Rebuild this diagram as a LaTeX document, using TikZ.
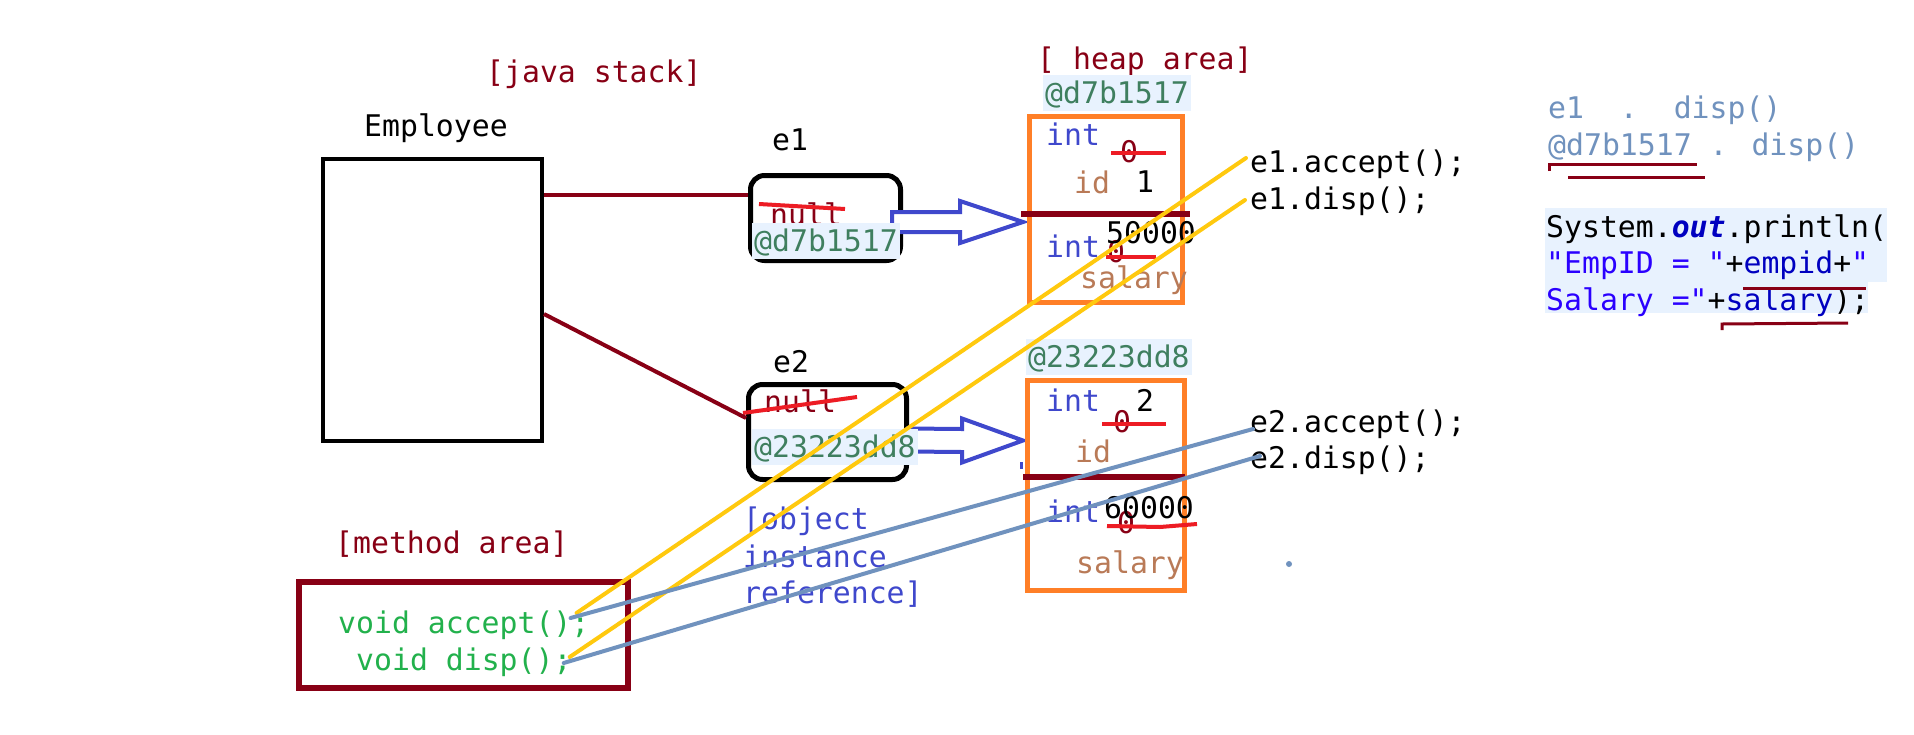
\documentclass[tikz,border=0pt]{standalone}
\usepackage{fontspec}
\newfontfamily\mono{DejaVu Sans Mono}
\usetikzlibrary{calc}
\definecolor{maroon}{HTML}{880015}
\definecolor{pred}{HTML}{ED1C24}
\definecolor{porange}{HTML}{FF7F27}
\definecolor{pyellow}{HTML}{FFC90E}
\definecolor{pindigo}{HTML}{3F48CC}
\definecolor{pbluegray}{HTML}{7092BE}
\definecolor{pgreen}{HTML}{22B14C}
\definecolor{pbrown}{HTML}{B97A57}
\definecolor{annot}{HTML}{3F7F5F}
\definecolor{hl}{HTML}{E8F2FE}
\definecolor{strblue}{HTML}{2A00FF}
\definecolor{fieldblue}{HTML}{0000C0}
\begin{document}
\begin{tikzpicture}[x=1pt,y=-1pt,
  txt/.style={anchor=base west,inner sep=0pt,font=\mono\fontsize{29.8}{36}\selectfont},
  hltxt/.style={txt,fill=hl,inner xsep=2pt,text height=28pt,text depth=8pt},
  blackbox/.style={draw=black,line width=4pt,inner sep=0pt},
  refbox/.style={draw=black,line width=5pt,rounded corners=14pt,inner sep=0pt},
  heapbox/.style={draw=porange,line width=5pt,inner sep=0pt},
  methbox/.style={draw=maroon,line width=6pt,inner sep=0pt},
  link/.style={draw=maroon,line width=4pt},
  yel/.style={draw=pyellow,line width=4pt,line cap=round},
  bgl/.style={draw=pbluegray,line width=4pt,line cap=round},
  strike/.style={draw=pred,line width=4pt},
  divider/.style={draw=maroon,line width=6pt},
  blockarr/.style={draw=pindigo,line width=4pt,fill=white,line join=miter},
  uline/.style={draw=maroon,line width=3pt}]
\useasboundingbox (0,0) rectangle (1914,734);
\fill[white] (0,0) rectangle (1914,734);

% ---------- java stack ----------
\node[txt,text=maroon] (jstack) at (486,82) {[java stack]};
\node[txt] (emplbl) at (364,136) {Employee};
\node[blackbox,minimum width=219pt,minimum height=282pt] (emp) at (432.5,300) {};

% ---------- e1 ----------
\node[txt] (e1lbl) at (772,150) {e1};
\node[refbox,minimum width=150pt,minimum height=85pt] (e1) at (825.5,218) {};
\node[txt,text=maroon] (null1) at (770,225) {null};
\draw[strike] (759,204) -- (845,209);
\coordinate (a1s) at ($(e1.east)+(-11,4)$);
\coordinate (a1t) at (1023,222);
\draw[blockarr] ($(a1s)+(0,-10)$) -- ($(a1t)+(-63,-10)$) -- ($(a1t)+(-63,-21)$) -- (a1t)
  -- ($(a1t)+(-63,21)$) -- ($(a1t)+(-63,10)$) -- ($(a1s)+(0,10)$) -- cycle;
\node[hltxt,text=annot] (ref1) at (752,251) {@d7b1517};

% ---------- e2 ----------
\node[txt] (e2lbl) at (773,372) {e2};
\node[refbox,minimum width=158pt,minimum height=95pt] (e2) at (827.5,432) {};
\node[txt,text=maroon] (null2) at (764,412) {null};
\draw[strike] (743,413) -- (857,397);
\coordinate (a2s) at ($(e2.east)+(-1,8)$);
\coordinate (a2t) at (1023,440.5);
\draw[blockarr] ($(a2s)+(0,-11.5)$) -- ($(a2t)+(-61,-11.5)$) -- ($(a2t)+(-61,-22)$) -- (a2t)
  -- ($(a2t)+(-61,22)$) -- ($(a2t)+(-61,11.5)$) -- ($(a2s)+(0,11.5)$) -- cycle;
\node[hltxt,text=annot] (ref2) at (752,457) {@23223dd8};
\draw[pindigo,line width=3pt] (1021,462) -- (1021,469);

% ---------- heap area ----------
\node[txt,text=maroon] (heaplbl) at (1037,69) {[ heap area]};
\node[hltxt,text=annot] (obj1lbl) at (1043,103) {@d7b1517};
\node[heapbox,minimum width=153pt,minimum height=186pt] (heap1) at (1106,209.5) {};
\node[txt,text=pindigo] (h1int1) at (1046,145) {int};
\node[txt,text=maroon] (h1z1) at (1120,162) {0};
\draw[strike] (1111,153) -- (1166,153);
\node[txt,text=pbrown] (h1id) at (1074,193) {id};
\node[txt] (h1one) at (1136,192) {1};
\draw[divider] (1021,214) -- (1190,214);
\node[txt,text=pindigo] (h1int2) at (1046,257) {int};
\node[txt,text=maroon] (h1z2) at (1107,262) {0};
\draw[strike] (1106,257) -- (1156,257);
\node[txt] (h1sal) at (1106,243) {50000};
\node[txt,text=pbrown] (h1salary) at (1080,288) {salary};

\node[hltxt,text=annot] (obj2lbl) at (1026,367) {@23223dd8};
\node[heapbox,minimum width=157pt,minimum height=210pt] (heap2) at (1106,485.5) {};
\node[txt,text=pindigo] (h2int1) at (1046,411) {int};
\node[txt] (h2two) at (1136,411) {2};
\node[txt,text=maroon] (h2z1) at (1113,432) {0};
\draw[strike] (1102,424) -- (1166,424);
\node[txt,text=pbrown] (h2id) at (1075,462) {id};
\draw[divider] (1023,477) -- (1185,477);
\node[txt,text=pindigo] (h2int2) at (1046,522) {int};
\node[txt,text=maroon] (h2z2) at (1117,533) {0};
\node[txt] (h2sal) at (1104,518) {60000};
\draw[strike] (1107,526) -- (1160,527) -- (1197,524);
\node[txt,text=pbrown] (h2salary) at (1076,573) {salary};

% ---------- method area ----------
\node[txt,text=maroon] (methlbl) at (335,553) {[method area]};
\node[methbox,minimum width=329pt,minimum height=106pt] (meth) at (463.5,635) {};
\node[txt,text=pgreen] (macc) at (338,633) {void accept();};
\node[txt,text=pgreen] (mdisp) at (356,670) {void disp();};

% ---------- object instance reference ----------
\node[txt,text=pindigo] (oir1) at (743,529) {[object};
\node[txt,text=pindigo] (oir2) at (743,567) {instance};
\node[txt,text=pindigo] (oir3) at (743,603) {reference]};

% ---------- calls ----------
\node[txt] (c1) at (1250,172) {e1.accept();};
\node[txt] (c2) at (1250,209) {e1.disp();};
\node[txt] (c3) at (1250,432) {e2.accept();};
\node[txt] (c4) at (1250,468) {e2.disp();};
\fill[pbluegray] (1289,564) circle (3);

% ---------- top right notes ----------
\node[txt,text=pbluegray] (n1) at (1548,118) {e1~~.~~disp()};
\node[txt,text=pbluegray] (n2) at (1548,155) {@d7b1517 . disp()};
\draw[uline] (1549,171) -- (1549,164) -- (1697,164);
\draw[uline] (1568,177) -- (1705,177);
\fill[hl] (1545,208) rectangle (1887,282);
\fill[hl] (1545,282) rectangle (1868,313);
\node[txt] (s1) at (1546,237) {System.{\bfseries\itshape\color{fieldblue}out}.println(};
\node[txt] (s2) at (1546,273) {{\color{strblue}"EmpID = "}+{\color{fieldblue}empid}+{\color{strblue}"}};
\node[txt] (s3) at (1546,310) {{\color{strblue}Salary ="}+{\color{fieldblue}salary});};
\draw[uline] (1743,288) -- (1866,288);
\draw[uline] (1722,330) -- (1722,324) -- (1848,323);

% ---------- connectors ----------
\draw[link] (emp.east |- 0,195) -- (e1.west |- 0,195);
\draw[link] (emp.east |- 0,314) -- (e2.west |- 0,418);
\draw[yel] ($(macc.base east)+(-13,-20)$) -- ($(c1.base west)+(-4,-14)$);
\draw[yel] ($(mdisp.base east)+(-2,-13)$) -- ($(c2.base west)+(-5,-9)$);
\draw[bgl] ($(macc.base east)+(-19,-15)$) -- ($(c3.base west)+(3,-3)$);
\draw[bgl] ($(mdisp.base east)+(-8,-7)$) -- ($(c4.base west)+(10,-12)$);
\end{tikzpicture}
\end{document}
